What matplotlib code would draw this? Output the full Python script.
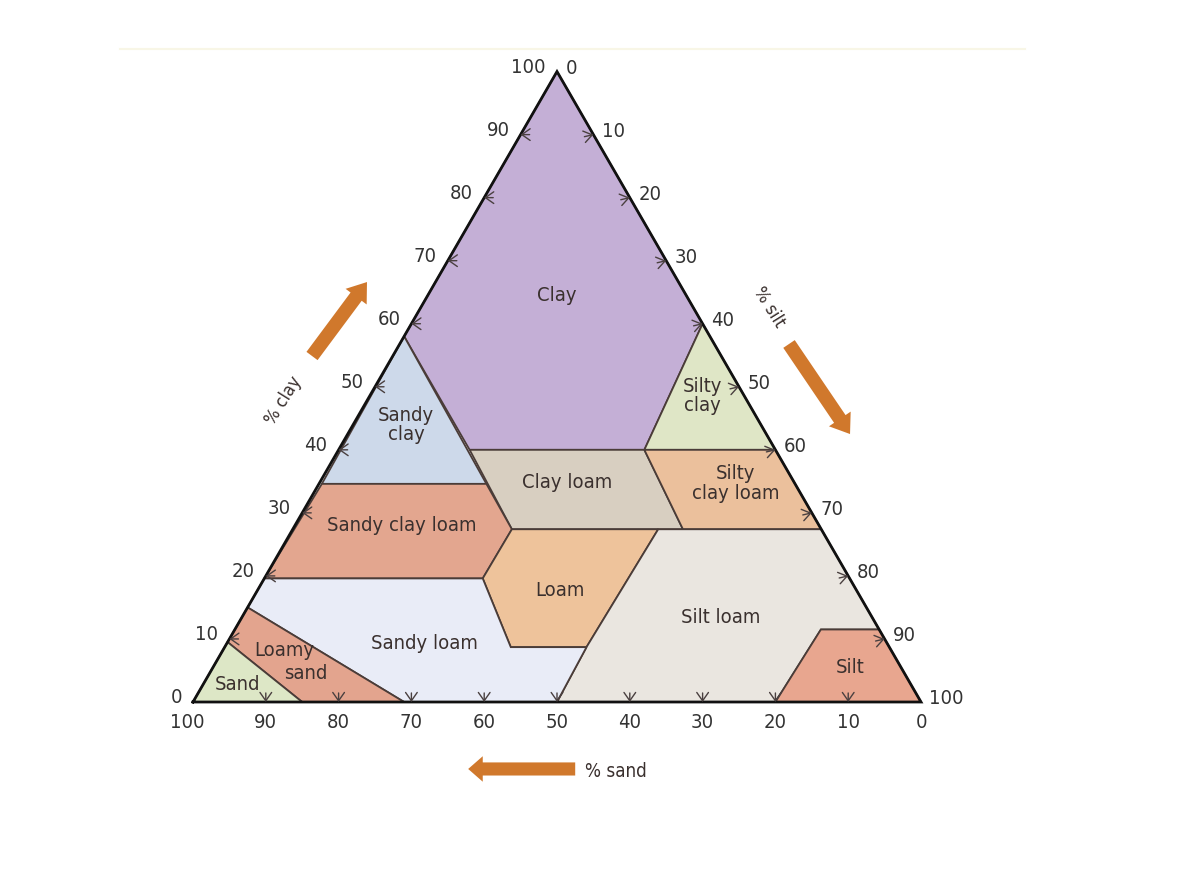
#Soil texture triangle (USDA style) - sand / silt / clay

import numpy as np
import matplotlib
matplotlib.use('Agg')
import matplotlib.pyplot as plt
from matplotlib import font_manager
from matplotlib.patches import Polygon, FancyArrow


#Region outlines, each vertex is (% sand, % clay), silt is whatever is left
clay_pts = [(0, 100), (42, 58), (42, 40), (18, 40), (0, 60)]
sandy_clay_pts = [(65, 34.6), (42, 58), (42.4, 34.6)]
silty_clay_pts = [(0, 60), (18, 40), (0, 40)]
clay_loam_pts = [(42, 40), (18, 40), (19, 27.4), (42.5, 27.4)]
silty_clay_loam_pts = [(18, 40), (0, 40), (0, 27.4), (19, 27.4)]
sandy_clay_loam_pts = [(65, 34.6), (42.4, 34.6), (42.5, 27.4), (50.4, 19.6), (80.4, 19.6)]
loam_pts = [(42.5, 27.4), (22.4, 27.4), (41.6, 8.7), (52, 8.7), (50.4, 19.6)]
silt_loam_pts = [(22.4, 27.4), (0, 27.4), (0, 11.5), (8, 11.5), (20, 0), (50, 0), (41.6, 8.7)]
silt_pts = [(8, 11.5), (0, 11.5), (0, 0), (20, 0)]
sandy_loam_pts = [(80.4, 19.6), (50.4, 19.6), (52, 8.7), (41.6, 8.7), (50, 0), (71, 0), (85, 15)]
loamy_sand_pts = [(85, 15), (71, 0), (85, 0), (90.5, 9.5)]
sand_pts = [(90.5, 9.5), (85, 0), (100, 0)]

regions = [clay_pts, sandy_clay_pts, silty_clay_pts, clay_loam_pts, silty_clay_loam_pts,
           sandy_clay_loam_pts, loam_pts, silt_loam_pts, silt_pts, sandy_loam_pts,
           loamy_sand_pts, sand_pts]
region_colors = ['#c4afd6', '#cdd9ea', '#dfe6c6', '#d8cfc1', '#ebc09c',
                 '#e3a68f', '#eec39b', '#eae6e0', '#e8a68f', '#e9ecf7',
                 '#e3a48e', '#dde7c6']

#Labels for each region, position given as (% sand, % clay)
region_names = ['Clay', 'Sandy\nclay', 'Silty\nclay', 'Clay loam', 'Silty\nclay loam',
                'Sandy clay loam', 'Loam', 'Sandy loam', 'Silt loam', 'Silt',
                'Loamy', 'sand', 'Sand']
label_sand = [17.7, 48.7, 5.7, 31.2, 8.1, 57.3, 40.7, 63.4, 20.7, 7.0, 83.2, 82.2, 92.5]
label_clay = [64.6, 44.1, 48.7, 34.9, 34.8, 28.1, 17.8, 9.5, 13.5, 5.6, 8.4, 4.6, 2.9]

tick_values = [0, 10, 20, 30, 40, 50, 60, 70, 80, 90, 100]


def tern(sand, clay):
    #ternary -> cartesian, bottom left corner is 100% sand, top is 100% clay
    sand = np.asarray(sand, dtype=float)
    clay = np.asarray(clay, dtype=float)
    silt = 100 - sand - clay
    return silt + clay / 2, clay * np.sqrt(3) / 2


#the original uses a narrow sans - look for any condensed sans that is installed
font_kw = dict(family=['Liberation Sans', 'DejaVu Sans'])
fs = 13.5
for f in font_manager.fontManager.ttflist:
    nm = f.name
    if 'Serif' in nm or 'Mono' in nm or 'CJK' in nm or f.style != 'normal':
        continue
    narrowish = ('Narrow' in nm or 'Condensed' in nm
                 or str(f.stretch) in ('condensed', 'semi-condensed', 'extra-condensed'))
    if narrowish and f.weight in (400, 'normal', 'regular', 500, 'medium'):
        font_kw = dict(family=[nm, 'DejaVu Sans'], fontstretch=f.stretch)
        fs = 14.5
        break

text_color = '#3a302e'
line_color = '#4a3c38'
orange = '#d0782c'

fig = plt.figure(figsize=(11.82, 8.78), dpi=100)
fig.patch.set_facecolor('white')
ax = fig.add_axes([0, 0, 1, 1])
ax.set_xlim(-26.51, 135.85)
ax.set_ylim(-24.04, 96.57)
ax.axis('off')

#faint edge of the original picture box
ax.plot([-10.0, 114.3], [89.7, 89.7], color='#f8f6e6', linewidth=1.5)

#coloured regions
for pts, col in zip(regions, region_colors):
    xs, ys = tern([p[0] for p in pts], [p[1] for p in pts])
    ax.add_patch(Polygon(np.column_stack([xs, ys]), closed=True, facecolor=col,
                         edgecolor=line_color, linewidth=1.3, zorder=2))

#outer triangle
tx, ty = tern([100, 0, 0, 100], [0, 0, 100, 0])
ax.plot(tx, ty, color='#111111', linewidth=2.0, zorder=4, solid_joinstyle='miter')

#region names
for name, s, c in zip(region_names, label_sand, label_clay):
    x, y = tern(s, c)
    ax.text(x, y, name, fontsize=fs, color=text_color, ha='center', va='center',
            linespacing=1.05, zorder=5, **font_kw)

#ticks + tick labels on the three sides
arrow_kw = dict(arrowstyle='->,head_length=0.5,head_width=0.35', color='#4a4040',
                lw=1.0, shrinkA=0, shrinkB=0, mutation_scale=12)
num_kw = dict(fontsize=fs, color='#333333', textcoords='offset points', **font_kw)
for v in tick_values:
    # clay, left side
    cx, cy = tern(100 - v, v)
    if 0 < v < 100:
        ax.annotate('', xy=(cx, cy), xytext=(6.5, 0), textcoords='offset points',
                    arrowprops=arrow_kw, zorder=5)
    ax.annotate(str(v), xy=(cx, cy), xytext=(-8, 3.8), ha='right', va='center', **num_kw)

    # silt, right side
    sx, sy = tern(0, 100 - v)
    if 0 < v < 100:
        ax.annotate('', xy=(sx, sy), xytext=(-6.5, -1.5), textcoords='offset points',
                    arrowprops=arrow_kw, zorder=5)
    ax.annotate(str(v), xy=(sx, sy), xytext=(6, 3.2), ha='left', va='center', **num_kw)

    # sand, bottom
    bx, by = tern(v, 0)
    if 0 < v < 100:
        ax.annotate('', xy=(bx, by), xytext=(0, 6.5), textcoords='offset points',
                    arrowprops=arrow_kw, zorder=5)
    ax.annotate(str(v), xy=(bx, by), xytext=(-4 if v == 100 else 0, -14),
                ha='center', va='center', **num_kw)

#axis names
ax.text(12.5, 41.6, '% clay', rotation=58, fontsize=fs - 1.5, color=text_color,
        ha='center', va='center', **font_kw)
ax.text(79.1, 54.4, '% silt', rotation=-58, fontsize=fs - 1.5, color=text_color,
        ha='center', va='center', **font_kw)
ax.text(53.9, -9.45, '% sand', fontsize=fs - 1, color=text_color,
        ha='left', va='center', **font_kw)

#the big orange direction arrows
ax.add_patch(FancyArrow(16.35, 47.53, 7.55, 10.16, width=1.9, head_width=3.6,
                        head_length=2.5, length_includes_head=True,
                        color=orange, linewidth=0))
ax.add_patch(FancyArrow(81.87, 49.18, 8.38, -12.37, width=1.9, head_width=3.6,
                        head_length=2.5, length_includes_head=True,
                        color=orange, linewidth=0))
ax.add_patch(FancyArrow(52.5, -9.2, -14.7, 0, width=1.8, head_width=3.5,
                        head_length=2.0, length_includes_head=True,
                        color=orange, linewidth=0))

fig.savefig('out.png', dpi=100, facecolor='white')
